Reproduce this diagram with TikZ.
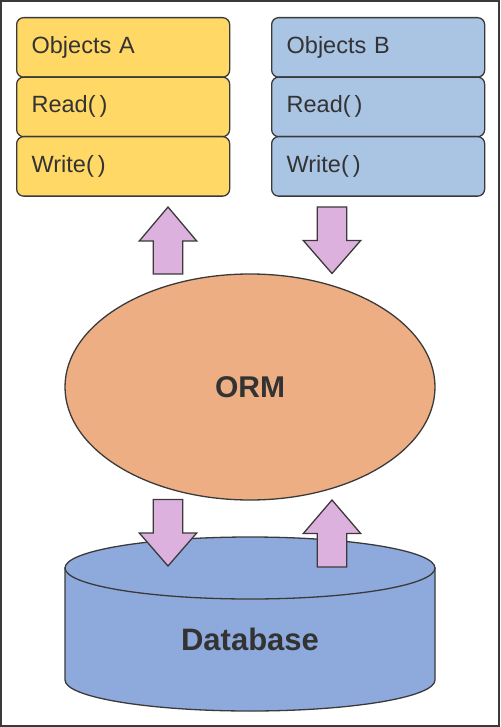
\documentclass[tikz,border=0pt]{standalone}
\usepackage{fontspec}
\setmainfont{Liberation Sans}
\usetikzlibrary{shapes.geometric}
\definecolor{yelA}{HTML}{FFD865}
\definecolor{bluB}{HTML}{AAC4E4}
\definecolor{ormc}{HTML}{EDAE84}
\definecolor{dbc}{HTML}{8EAADC}
\definecolor{arrc}{HTML}{DDB1DE}
\definecolor{linec}{HTML}{3A3A3A}
\definecolor{txtc}{HTML}{333333}
\tikzset{
  rowbox/.style={draw=linec, line width=1.3pt, rounded corners=7pt,
    minimum width=213pt, minimum height=59.5pt, text width=183pt, align=left,
    inner xsep=15pt, inner ysep=0pt, anchor=north west, text=txtc,
    font=\fontsize{23.5}{27}\selectfont, text height=17pt, text depth=5pt},
  rowA/.style={rowbox, fill=yelA},
  rowB/.style={rowbox, fill=bluB},
  blockarrow/.style={draw=linec, line width=1.3pt, fill=arrc, line join=miter},
  outl/.style={draw=linec, line width=1.3pt}
}
\begin{document}
\begin{tikzpicture}[x=1pt,y=-1pt]
\useasboundingbox (0,0) rectangle (500,727);
\draw[draw=linec, line width=2.2pt] (1.1,1.1) rectangle (498.9,725.9);
% Objects A
\node[rowA] (a1) at (16,17) {Objects A};
\node[rowA] (a2) at (16,76.5) {Read(\,)};
\node[rowA] (a3) at (16,136) {Write(\,)};
% Objects B
\node[rowB] (b1) at (271,17) {Objects B};
\node[rowB] (b2) at (271,76.5) {Read(\,)};
\node[rowB] (b3) at (271,136) {Write(\,)};
% ORM
\node[ellipse, outl, fill=ormc, minimum width=370pt, minimum height=226pt, inner sep=0pt,
  text=txtc, font=\bfseries\fontsize{30}{34}\selectfont] (orm) at (250,387) {ORM};
% Database cylinder
\path[outl, fill=dbc] (65,568) -- (65,680) arc[start angle=180, end angle=0, x radius=185, y radius=31] -- (435,568) -- cycle;
\draw[outl, fill=dbc] (250,568) ellipse [x radius=185, y radius=31];
\node[text=txtc, font=\bfseries\fontsize{31}{35}\selectfont, inner sep=0pt] (db) at (250,639) {Database};
% Block arrows
\coordinate (upA) at (168,207);
\coordinate (downB) at (332,207);
\coordinate (downDB) at (168,499.5);
\coordinate (upDB) at (332,500);
\draw[blockarrow] (upA) -- ++(28.7,34) -- ++(-14,0) -- ++(0,33) -- ++(-29.4,0) -- ++(0,-33) -- ++(-14,0) -- cycle;
\draw[blockarrow] (upDB) -- ++(28.7,33.5) -- ++(-14,0) -- ++(0,33.5) -- ++(-29.4,0) -- ++(0,-33.5) -- ++(-14,0) -- cycle;
\draw[blockarrow] (downB) ++(-14.7,0) -- ++(29.4,0) -- ++(0,33.5) -- ++(14,0) -- ++(-28.7,33) -- ++(-28.7,-33) -- ++(14,0) -- cycle;
\draw[blockarrow] (downDB) ++(-14.7,0) -- ++(29.4,0) -- ++(0,33.5) -- ++(14,0) -- ++(-28.7,33) -- ++(-28.7,-33) -- ++(14,0) -- cycle;
\end{tikzpicture}
\end{document}
